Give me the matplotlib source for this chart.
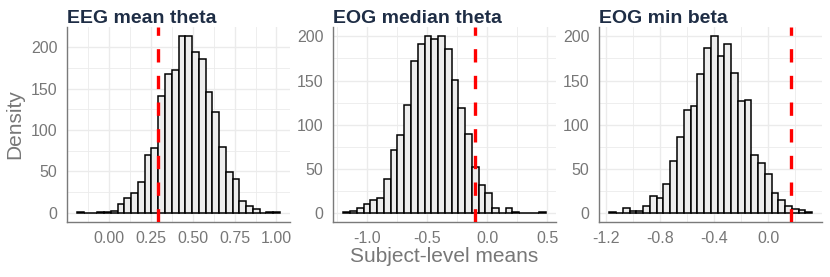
import numpy as np
import matplotlib
matplotlib.use("Agg")
import matplotlib.pyplot as plt
from matplotlib.ticker import FixedLocator

plt.rcParams['font.family'] = ['Liberation Sans', 'DejaVu Sans']
plt.rcParams['axes.unicode_minus'] = False

# ---- data ----
titles = ["EEG mean theta", "EOG median theta", "EOG min beta"]

eeg_mean_theta_counts = [1, 0, 0, 1, 1, 2, 11, 18, 24, 37, 70, 78, 141, 167, 172,
                         214, 214, 194, 186, 146, 122, 80, 49, 41, 14, 8, 5, 0, 1, 1]
eog_median_theta_counts = [1, 2, 5, 10, 15, 17, 38, 71, 88, 122, 172, 192, 200, 197, 201,
                           186, 151, 119, 89, 52, 31, 23, 5, 0, 6, 1, 0, 0, 0, 1]
eog_min_beta_counts = [1, 0, 5, 2, 2, 8, 19, 17, 33, 59, 86, 117, 121, 157, 187,
                       201, 178, 192, 159, 127, 128, 66, 57, 44, 23, 14, 8, 4, 3, 1]

bin_starts = [-0.188, -1.196, -1.176]
bin_widths = [0.04027, 0.05617, 0.05]
observed_values = [0.292, -0.105, 0.165]

x_ticks = [[0.0, 0.25, 0.5, 0.75, 1.0], [-1.0, -0.5, 0.0, 0.5], [-1.2, -0.8, -0.4, 0.0]]
x_tick_labels = [["0.00", "0.25", "0.50", "0.75", "1.00"],
                 ["-1.0", "-0.5", "0.0", "0.5"],
                 ["-1.2", "-0.8", "-0.4", "0.0"]]
x_minor = [[-0.125, 0.125, 0.375, 0.625, 0.875], [-1.25, -0.75, -0.25, 0.25], [-1.0, -0.6, -0.2, 0.2]]
y_ticks = [0, 50, 100, 150, 200]
y_minor = [25, 75, 125, 175, 225]

x_label = "Subject-level means"
y_label = "Density"

all_counts = [eeg_mean_theta_counts, eog_median_theta_counts, eog_min_beta_counts]

# ---- figure ----
W, H = 830, 277
fig = plt.figure(figsize=(W / 100, H / 100), dpi=100)
lefts = [67, 333.3, 599.3]
top, bottom = 26.7, 221.7
aw = 223

grid_c = '#EBEBEB'
text_c = '#777777'
title_c = '#1E2D45'

for i in range(3):
    ax = fig.add_axes([lefts[i] / W, (H - bottom) / H, aw / W, (bottom - top) / H])
    counts = np.array(all_counts[i])
    n = len(counts)
    edges = bin_starts[i] + bin_widths[i] * np.arange(n)
    ax.bar(edges, counts, width=bin_widths[i], align='edge', color='#EDEDED',
           edgecolor='black', linewidth=1.1, zorder=3)
    ax.axvline(observed_values[i], color='#FF0000', linewidth=2.4,
               linestyle=(0, (4, 4)), zorder=4)
    lo = edges[0]
    hi = edges[-1] + bin_widths[i]
    for v in [observed_values[i]]:
        lo, hi = min(lo, v), max(hi, v)
    rng = hi - lo
    ax.set_xlim(lo - 0.05 * rng, hi + 0.05 * rng)
    ymax = counts.max()
    ax.set_ylim(-0.05 * ymax, 1.05 * ymax)

    ax.set_xticks(x_ticks[i])
    ax.set_xticklabels(x_tick_labels[i])
    ax.xaxis.set_minor_locator(FixedLocator(x_minor[i]))
    ax.set_yticks(y_ticks)
    ax.set_yticklabels([str(v) for v in y_ticks])
    ax.yaxis.set_minor_locator(FixedLocator(y_minor))

    ax.grid(True, which='major', color=grid_c, linewidth=1.0, zorder=0)
    ax.grid(True, which='minor', color=grid_c, linewidth=0.6, zorder=0)
    ax.set_axisbelow(True)
    ax.tick_params(which='both', length=0, pad=7, labelsize=11.5, labelcolor=text_c)

    for s in ['top', 'right']:
        ax.spines[s].set_visible(False)
    for s in ['left', 'bottom']:
        ax.spines[s].set_color('#7a7a7a')
        ax.spines[s].set_linewidth(1.0)

    ax.set_title(titles[i], loc='left', pad=3, fontsize=14, fontweight='bold', color=title_c)

fig.text(444.3 / W, 1 - 256 / H, x_label, ha='center', va='center', fontsize=15, color=text_c)
fig.text(15 / W, 1 - 124.2 / H, y_label, ha='center', va='center', rotation=90,
         fontsize=15, color=text_c)

fig.savefig("out.png", dpi=100)
